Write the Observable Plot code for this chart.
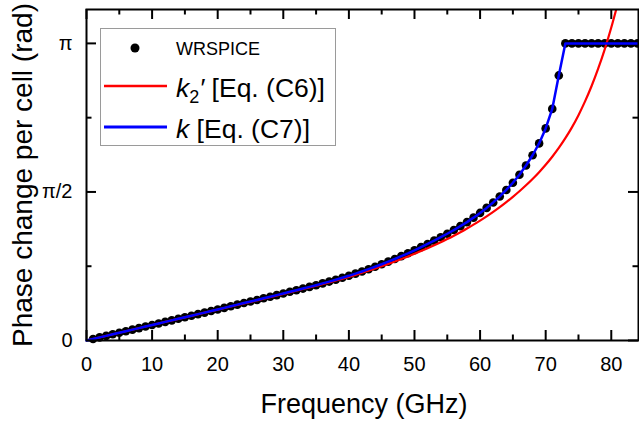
<!DOCTYPE html>
<html>
<head>
<meta charset="utf-8">
<script src="https://cdn.jsdelivr.net/npm/d3@7"></script>
<script src="https://cdn.jsdelivr.net/npm/@observablehq/plot@0.6"></script>
<style>
  body { margin: 0; background: #fff; }
  svg { display: block; }
</style>
</head>
<body>
<div id="chart"></div>
<script>
// ---- Data ----
const wrspiceFreq = [1,2,3,4,5,6,7,8,9,10,11,12,13,14,15,16,17,18,19,20,
  21,22,23,24,25,26,27,28,29,30,31,32,33,34,35,36,37,38,39,40,
  41,42,43,44,45,46,47,48,49,50,51,52,53,54,55,56,57,58,59,60,
  61,62,63,64,65,66,67,68,69,70,71,72,73,74,75,76,77,78,79,80,
  81,82,83,84];
const wrspicePhase = [0.016,0.033,0.049,0.066,0.082,0.098,0.115,0.131,0.148,0.164,
  0.180,0.197,0.213,0.230,0.246,0.262,0.279,0.295,0.312,0.328,
  0.345,0.362,0.379,0.396,0.413,0.429,0.446,0.463,0.480,0.497,
  0.515,0.532,0.549,0.567,0.585,0.604,0.623,0.643,0.663,0.684,
  0.707,0.730,0.754,0.780,0.806,0.834,0.862,0.892,0.922,0.954,
  0.987,1.021,1.056,1.092,1.129,1.168,1.209,1.252,1.299,1.349,
  1.402,1.460,1.523,1.592,1.668,1.753,1.850,1.959,2.084,2.243,
  2.449,2.803,3.1416,3.1416,3.1416,3.1416,3.1416,3.1416,3.1416,3.1416,
  3.1416,3.1416,3.1416,3.1416];

// k [Eq. (C7)] follows the simulated points, starting at the origin
const kFreq = [0, ...wrspiceFreq];
const kPhase = [0, ...wrspicePhase];

// k2' [Eq. (C6)]
const k2Freq = [0,5,10,15,20,25,30,35,40,41,42,43,44,45,46,47,48,49,50,
  51,52,53,54,55,56,57,58,59,60,61,62,63,64,65,66,67,68,69,70,
  71,72,73,74,75,76,77,78,79,80,80.75];
const k2Phase = [0,0.082,0.164,0.245,0.327,0.409,0.492,0.579,0.673,0.694,0.716,0.738,0.761,0.785,0.810,0.836,0.862,0.889,0.917,
  0.946,0.976,1.007,1.039,1.073,1.108,1.145,1.184,1.225,1.268,1.313,1.360,1.410,1.463,1.519,1.578,1.641,1.708,1.780,1.858,
  1.943,2.036,2.139,2.254,2.383,2.528,2.691,2.874,3.079,3.309,3.500];

const xTicks = [0,10,20,30,40,50,60,70,80];
const xMinorTicks = [5,15,25,35,45,55,65,75];
const yTickValues = [0, Math.PI / 2, Math.PI];
const yTickLabels = ["0", "\u03c0/2", "\u03c0"];
const yMinorTicks = [Math.PI / 4, 3 * Math.PI / 4];

const legendLabels = ["WRSPICE", "[Eq. (C6)]", "[Eq. (C7)]"];
const xTitle = "Frequency (GHz)";
const yTitle = "Phase change per cell (rad)";

// ---- Tables ----
const wrspice = wrspiceFreq.map((f, i) => ({f, phase: wrspicePhase[i]}));
const kLine = kFreq.map((f, i) => ({f, phase: kPhase[i]}));
const k2Line = k2Freq.map((f, i) => ({f, phase: k2Phase[i]}));

// ---- Layout ----
const W = 639, H = 426;
const mL = 86, mR = 1, mT = 9, mB = 86;
const innerW = W - mL - mR, innerH = H - mT - mB;
const major = 10, minor = 5.5;
const tickStyle = {stroke: "black", strokeWidth: 2};

const chart = Plot.plot({
  width: W, height: H,
  marginLeft: mL, marginRight: mR, marginTop: mT, marginBottom: mB,
  style: {background: "white", fontFamily: "'Liberation Sans', Arial, sans-serif", fontSize: "20px", color: "black", overflow: "visible"},
  x: {domain: [0, 84.15], ticks: xTicks, tickSize: 0, tickPadding: 16, label: null, tickFormat: d => String(d)},
  y: {domain: [0, 3.5], ticks: yTickValues, tickSize: 0, tickPadding: 14, label: null,
      tickFormat: d => yTickLabels[yTickValues.indexOf(d)]},
  marks: [
    // inward ticks on all four sides
    Plot.tickX(xTicks, {x: d => d, insetTop: innerH - major, ...tickStyle}),
    Plot.tickX(xMinorTicks, {x: d => d, insetTop: innerH - minor, ...tickStyle}),
    Plot.tickX(xTicks, {x: d => d, insetBottom: innerH - major, ...tickStyle}),
    Plot.tickX(xMinorTicks, {x: d => d, insetBottom: innerH - minor, ...tickStyle}),
    Plot.tickY(yTickValues, {y: d => d, insetRight: innerW - major, ...tickStyle}),
    Plot.tickY(yMinorTicks, {y: d => d, insetRight: innerW - minor, ...tickStyle}),
    Plot.tickY(yTickValues, {y: d => d, insetLeft: innerW - major, ...tickStyle}),
    Plot.tickY(yMinorTicks, {y: d => d, insetLeft: innerW - minor, ...tickStyle}),
    // data
    Plot.dot(wrspice, {x: "f", y: "phase", r: 4.3, fill: "black", stroke: "none"}),
    Plot.line(k2Line, {x: "f", y: "phase", stroke: "#ff0000", strokeWidth: 2.2, curve: "monotone-x", clip: true}),
    Plot.line(kLine, {x: "f", y: "phase", stroke: "#0000ff", strokeWidth: 2.5}),
    Plot.frame({stroke: "black", strokeWidth: 2})
  ]
});

document.getElementById("chart").appendChild(chart);

// ---- Titles and legend ----
const svg = d3.select(chart);
svg.append("text")
  .attr("x", 364).attr("y", 413)
  .attr("text-anchor", "middle").attr("font-size", 27).attr("fill", "black")
  .text(xTitle);
svg.append("text")
  .attr("transform", "translate(32,175) rotate(-90)")
  .attr("text-anchor", "middle").attr("font-size", 28).attr("fill", "black")
  .text(yTitle);

const lg = svg.append("g").attr("text-anchor", "start");
lg.append("rect").attr("x", 100.5).attr("y", 28.5).attr("width", 235).attr("height", 117)
  .attr("fill", "white").attr("stroke", "#9a9a9a").attr("stroke-width", 1);
lg.append("circle").attr("cx", 135).attr("cy", 48).attr("r", 4.5).attr("fill", "black");
lg.append("text").attr("x", 176).attr("y", 55).attr("font-size", 18).attr("fill", "black")
  .attr("text-anchor", "start").text(legendLabels[0]);

lg.append("line").attr("x1", 104).attr("x2", 167).attr("y1", 86).attr("y2", 86)
  .attr("stroke", "#ff0000").attr("stroke-width", 2.5);
const t2 = lg.append("text").attr("x", 176).attr("y", 97).attr("font-size", 26.5).attr("fill", "black")
  .attr("text-anchor", "start");
t2.append("tspan").attr("font-style", "italic").text("k");
t2.append("tspan").attr("font-size", 18).attr("dy", 6).text("2");
t2.append("tspan").attr("dy", -6).attr("font-style", "italic").text("\u2032");
t2.append("tspan").text(" " + legendLabels[1]);

lg.append("line").attr("x1", 104).attr("x2", 167).attr("y1", 127).attr("y2", 127)
  .attr("stroke", "#0000ff").attr("stroke-width", 3);
const t3 = lg.append("text").attr("x", 176).attr("y", 138).attr("font-size", 26.5).attr("fill", "black")
  .attr("text-anchor", "start");
t3.append("tspan").attr("font-style", "italic").text("k");
t3.append("tspan").text(" " + legendLabels[2]);
</script>
</body>
</html>
